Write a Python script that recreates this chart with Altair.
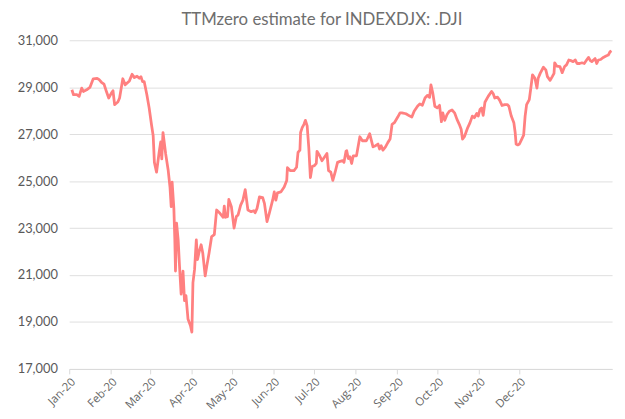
import altair as alt
import pandas as pd

# days since 2020-01-01
day = [2.0, 3.2, 5.7, 7.4, 9.3, 10.5, 13.0, 15.4, 17.9, 20.8, 22.3, 24.0, 25.9, 27.7, 29.4, 31.4, 32.6, 33.8,
       36.2, 37.5, 39.9, 41.7, 44.8, 46.8, 48.5, 50.5, 52.2, 53.4, 54.6, 55.8, 57.8, 59.5, 61.2, 62.5, 63.4,
       65.0, 66.9, 68.1, 68.9, 69.8, 71.8, 73.7, 75.0, 75.9, 76.6, 77.9, 78.6, 79.1, 79.9, 81.1, 82.1, 83.3,
       84.7, 85.8, 86.9, 88.4, 90.2, 91.3, 92.1, 93.3, 94.6, 95.5, 96.8, 98.2, 99.4, 101.2, 102.4, 104.1,
       106.0, 108.0, 109.7, 112.2, 114.6, 115.4, 116.3, 117.8, 118.8, 120.7, 122.7, 124.4, 125.7, 127.6,
       129.3, 131.0, 133.0, 135.4, 137.4, 138.4, 139.8, 141.6, 144.0, 145.3, 147.2, 148.9, 151.4, 152.6,
       153.8, 155.0, 157.5, 160.0, 161.9, 162.4, 164.4, 167.3, 169.2, 170.3, 171.7, 172.2, 173.4, 174.7,
       175.8, 177.1, 178.3, 179.5, 180.8, 182.5, 183.9, 184.4, 186.4, 188.1, 189.8, 191.8, 193.0, 194.7,
       196.2, 197.9, 199.7, 201.6, 203.5, 204.5, 206.0, 206.5, 207.7, 208.9, 210.2, 211.4, 213.8, 216.3,
       218.2, 221.2, 223.6, 226.1, 228.0, 229.8, 231.0, 232.2, 233.5, 235.4, 237.1, 238.8, 240.3, 242.0,
       244.5, 246.2, 247.6, 250.6, 253.5, 255.0, 256.7, 259.2, 260.9, 262.8, 264.8, 266.5, 268.2, 269.2,
       270.6, 272.1, 273.9, 275.6, 277.0, 278.0, 279.5, 281.2, 282.9, 284.9, 286.8, 288.6, 290.3, 291.7,
       292.7, 294.1, 296.6, 298.3, 300.0, 301.5, 303.3, 304.4, 305.7, 306.9, 308.1, 309.4, 311.8, 314.3,
       315.5, 316.7, 318.7, 320.4, 322.1, 324.1, 326.0, 327.2, 329.0, 330.9, 331.9, 332.6, 333.8, 335.1,
       336.8, 338.2, 339.3, 340.4, 342.4, 343.7, 344.8, 346.6, 348.1, 349.0, 350.5, 352.9, 354.7, 355.9,
       357.9, 359.5, 360.8, 361.3, 362.8, 365.2, 366.9, 368.7, 370.1, 371.8, 373.5, 375.0, 376.7, 377.9,
       379.9, 381.6, 383.3, 385.3, 386.5, 387.8, 388.9, 390.2, 391.4, 392.6, 393.9, 395.5, 397.5, 399.5,
       401.2, 402.5, 403.6]

value = [28890, 28680, 28680, 28610, 28960, 28820, 28890, 28990, 29360, 29380, 29320, 29210, 29130, 28820,
         28540, 28750, 28850, 28260, 28370, 28540, 29360, 29100, 29270, 29550, 29410, 29470, 29380, 29450,
         29240, 29240, 28680, 28120, 27420, 26930, 25800, 25380, 26210, 26670, 25950, 27070, 26160, 25450,
         24750, 23910, 24960, 23840, 22500, 21170, 23210, 22500, 21380, 20190, 21170, 19910, 20120, 19130,
         18850, 18570, 20680, 21240, 22500, 21660, 22010, 22290, 21940, 20960, 21380, 21940, 22640, 22720,
         23770, 23630, 23460, 23940, 23460, 23490, 24220, 23910, 23000, 23490, 23560, 23980, 24190, 24640,
         23770, 23700, 23740, 23650, 23840, 24330, 24300, 24050, 23280, 23630, 24190, 24540, 24190, 24500,
         24540, 24750, 25030, 25570, 25450, 25450, 25590, 26220, 26320, 27070, 27280, 27420, 27590, 27350,
         26430, 25150, 25620, 25660, 25760, 26270, 26080, 25870, 26010, 26180, 25450, 25380, 25030, 25380,
         25800, 25840, 25870, 25800, 26270, 26300, 25960, 26040, 25750, 26080, 26080, 26890, 26720, 26720,
         27020, 26460, 26510, 26580, 26370, 26510, 26320, 26460, 26640, 26790, 27420, 27490, 27730, 27910,
         27910, 27870, 27770, 27730, 27980, 28190, 28290, 28230, 28540, 28650, 28570, 29100, 28750, 28190,
         28120, 28230, 27530, 27910, 27590, 27840, 27980, 28030, 27910, 27630, 27420, 27210, 26790, 26890,
         27280, 27490, 27770, 27700, 27880, 27770, 28050, 28120, 27800, 28360, 28610, 28820, 28730, 28540,
         28580, 28440, 28220, 28260, 28260, 28190, 27770, 27490, 27070, 26580, 26540, 26580, 26790, 26960,
         27770, 28260, 28470, 29030, 29530, 29380, 28960, 29380, 29590, 29850, 29740, 29450, 29290, 29450,
         29590, 30040, 29900, 29880, 29620, 29880, 29950, 30160, 30130, 30090, 30160, 30010, 30010, 30040,
         30010, 30180, 30270, 30130, 30090, 30160, 30220, 30010, 30160, 30180, 30270, 30330, 30370, 30510,
         30550]

y_ticks = [17000, 19000, 21000, 23000, 25000, 27000, 29000, 31000]
month_ticks = [alt.DateTime(year=2020, month=m, date=1) for m in range(1, 13)]

df = pd.DataFrame({
    "date": pd.Timestamp("2020-01-01") + pd.to_timedelta(day, unit="D"),
    "value": value,
})

chart = alt.Chart(df).mark_line(
    color="#ff8080", strokeWidth=2.8, strokeJoin="round"
).encode(
    x=alt.X(
        "date:T",
        scale=alt.Scale(domain=[alt.DateTime(year=2020, month=1, date=1),
                                alt.DateTime(year=2021, month=2, date=8)]),
        axis=alt.Axis(values=month_ticks, format="%b-%y", labelAngle=315, grid=False,
                      domainColor="#d9d9d9", tickColor="#d9d9d9", tickSize=5,
                      labelFont="Open Sans", labelFontSize=11.5, labelColor="#666666",
                      labelOverlap=False, labelFlush=False, labelPadding=2, title=None),
    ),
    y=alt.Y(
        "value:Q",
        scale=alt.Scale(domain=[17000, 31000], nice=False, zero=False),
        axis=alt.Axis(values=y_ticks, format=",.0f", grid=True, gridColor="#dedede",
                      domain=False, ticks=False, labelPadding=12, labelFont="Lato",
                      labelFontSize=13, labelColor="#595959", title=None),
    ),
).properties(
    width=550,
    height=333,
    title=alt.TitleParams("TTMzero estimate for INDEXDJX: .DJI", font="Lato", fontSize=17,
                          fontWeight="normal", color="#6e6e6e", anchor="middle", dx=-19, offset=5),
    padding={"left": 62, "top": 30, "right": 5, "bottom": 46},
    autosize="none",
).configure_view(strokeWidth=0)

chart.save("out.html", embed_options={"renderer": "svg", "actions": False})
